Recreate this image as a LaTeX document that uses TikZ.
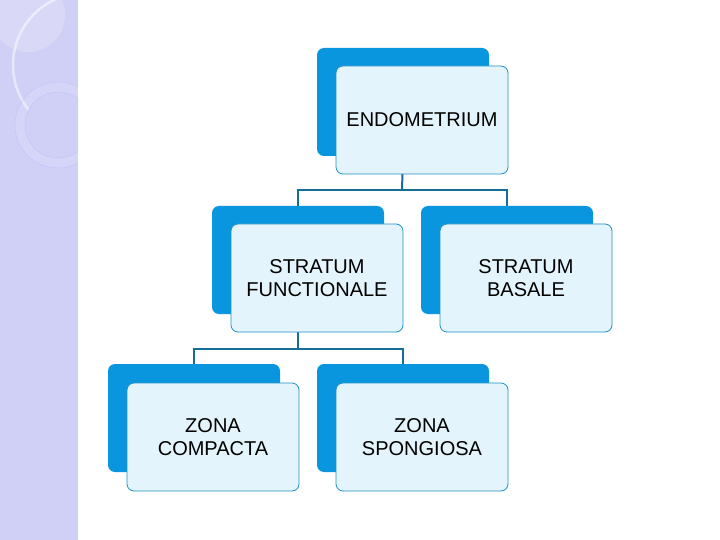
\documentclass[tikz,border=0pt]{standalone}
\usepackage{fontspec}
\setmainfont{Liberation Sans}
\usetikzlibrary{backgrounds}
\definecolor{strip}{RGB}{208,208,246}
\definecolor{backblue}{RGB}{10,150,222}
\definecolor{frontfill}{RGB}{228,244,252}
\definecolor{frontline}{RGB}{30,145,195}
\definecolor{conn}{RGB}{20,110,150}
\begin{document}
\begin{tikzpicture}[x=1pt,y=-1pt,
  backbox/.style={draw=none,fill=backblue,rounded corners=7pt,minimum width=172pt,minimum height=108pt,inner sep=0pt},
  frontbox/.style={draw=frontline,line width=0.8pt,fill=frontfill,rounded corners=7pt,minimum width=172pt,minimum height=108pt,inner sep=0pt,align=center,font=\fontsize{20pt}{23pt}\selectfont},
  connector/.style={draw=conn,line width=2pt}]
\useasboundingbox (0,0) rectangle (720,540);
% boxes
\node[backbox] (b1) at (403,102) {};
\node[frontbox] (endo) at (422,120) {ENDOMETRIUM};
\node[backbox] (b2) at (298,260) {};
\node[frontbox] (func) at (317,278) {STRATUM\\FUNCTIONALE};
\node[backbox] (b3) at (507,260) {};
\node[frontbox] (basale) at (526,278) {STRATUM\\BASALE};
\node[backbox] (b4) at (194,418) {};
\node[frontbox] (comp) at (213,437) {ZONA\\COMPACTA};
\node[backbox] (b5) at (403,418) {};
\node[frontbox] (spong) at (422,437) {ZONA\\SPONGIOSA};
\begin{scope}[on background layer]
\fill[white] (0,0) rectangle (720,540);
\begin{scope}
\clip (0,0) rectangle (78,540);
\fill[strip] (0,0) rectangle (78,540);
\fill[white,opacity=0.2] (28,15) circle (37);
\draw[white,opacity=0.5,line width=2.5pt] (85,65) circle (72);
\draw[strip!80!blue!70,line width=0.4pt,fill=white,fill opacity=0.12] (58,125) circle (43);
\fill[strip] (58,125) circle (33);
\draw[strip!80!blue!70,line width=0.4pt] (58,125) circle (33);
\end{scope}
% connectors
\coordinate (j1) at (402,190);
\coordinate (j2) at (298,349);
\draw[connector] (b1.south) -- (j1);
\draw[connector] (b2.north) |- (j1) -| (b3.north);
\draw[connector] (b2.south) -- (j2);
\draw[connector] (b4.north) |- (j2) -| (b5.north);
\end{scope}
\end{tikzpicture}
\end{document}
